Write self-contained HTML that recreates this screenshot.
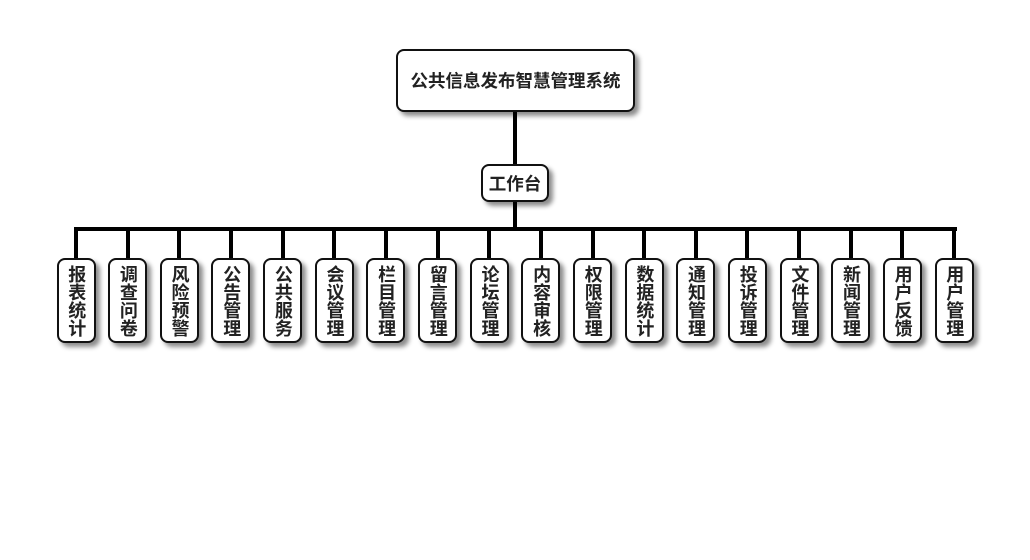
<!DOCTYPE html>
<html><head><meta charset="utf-8"><style>
body{margin:0;width:1030px;height:560px;background:#fff;position:relative;overflow:hidden;font-family:"Liberation Sans","Noto Sans CJK SC",sans-serif;font-weight:bold;color:#222}
.b{position:absolute;background:#fff;border:2px solid #111;border-radius:8px;box-shadow:4px 4px 5px rgba(0,0,0,.45);box-sizing:border-box;display:flex;align-items:center;justify-content:center;text-align:center}
.l{position:absolute;background:#000}
.leaf{width:39px;height:85px;top:258px;font-size:18px;line-height:18.5px;writing-mode:vertical-rl;letter-spacing:0}
</style></head><body>
<div class="l" style="left:513px;top:110px;width:4px;height:56px"></div>
<div class="l" style="left:513px;top:200px;width:4px;height:30px"></div>
<div class="l" style="left:74px;top:227px;width:883px;height:4px"></div>
<div class="b" style="left:396px;top:49px;width:239px;height:63px;font-size:17.5px">公共信息发布智慧管理系统</div>
<div class="b" style="left:481px;top:164px;width:68px;height:38px;font-size:17.5px">工作台</div>
<div id="leaves"></div>
<script>
var t=["报表统计","调查问卷","风险预警","公告管理","公共服务","会议管理","栏目管理","留言管理","论坛管理","内容审核","权限管理","数据统计","通知管理","投诉管理","文件管理","新闻管理","用户反馈","用户管理"];
var h="";
for(var i=0;i<t.length;i++){var c=76+i*51.65;
h+='<div class="l" style="left:'+(c-2)+'px;top:229px;width:4px;height:30px"></div>';
h+='<div class="b leaf" style="left:'+(c-19.5)+'px">'+t[i]+'</div>';}
document.getElementById("leaves").innerHTML=h;
</script>
</body></html>
